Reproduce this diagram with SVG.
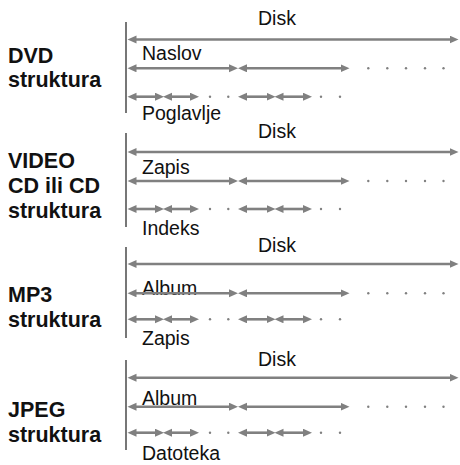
<svg xmlns="http://www.w3.org/2000/svg" width="460" height="465" viewBox="0 0 460 465">
<style>
.t{font-family:"Liberation Sans",Arial,sans-serif;font-size:19.5px;fill:#111}
.b{font-family:"Liberation Sans",Arial,sans-serif;font-size:21.5px;font-weight:bold;fill:#111}
.v{stroke:#555;stroke-width:1.6;fill:none}
.a{stroke:#808080;stroke-width:2.6;fill:none;marker-start:url(#ah);marker-end:url(#ah)}
.d{fill:#808080}
</style>
<defs>
<marker id="ah" markerUnits="userSpaceOnUse" markerWidth="10" markerHeight="9" refX="3.5" refY="4" orient="auto-start-reverse" viewBox="0 0 10 9">
<path d="M0,0 L9,4 L0,8 z" fill="#808080"/>
</marker>
</defs>
<rect width="460" height="465" fill="#fff"/>
<g id="labels">
<text class="b" x="8" y="63">DVD</text><text class="b" x="8" y="87">struktura</text>
<text class="b" x="8" y="168">VIDEO</text><text class="b" x="8" y="193">CD ili CD</text><text class="b" x="8" y="218">struktura</text>
<text class="b" x="8" y="302">MP3</text><text class="b" x="8" y="327">struktura</text>
<text class="b" x="8" y="417">JPEG</text><text class="b" x="8" y="442">struktura</text>
</g>
<g id="section1">
<path class="v" d="M126,22 V113"/>
<text class="t" x="277" y="25" text-anchor="middle">Disk</text>
<text class="t" x="142" y="59.5">Naslov</text>
<text class="t" x="142" y="120">Poglavlje</text>
<g class="conn">
<path class="a" d="M133,39.5 H453"/>
<path class="a" d="M133,68.3 H232.5"/><path class="a" d="M243.5,68.3 H344"/>
<path class="a" d="M133,96.7 H158.5"/><path class="a" d="M168.5,96.7 H193.5"/>
<path class="a" d="M243.5,96.7 H270"/><path class="a" d="M280,96.7 H306.5"/>
</g>
<g class="d"><circle cx="368.3" cy="68.3" r="1.2"/><circle cx="387.3" cy="68.3" r="1.2"/><circle cx="406" cy="68.3" r="1.2"/><circle cx="425" cy="68.3" r="1.2"/><circle cx="443.5" cy="68.3" r="1.2"/>
<circle cx="210" cy="96.7" r="1.2"/><circle cx="228.3" cy="96.7" r="1.2"/><circle cx="321" cy="96.7" r="1.2"/><circle cx="340" cy="96.7" r="1.2"/></g>
</g>
<g id="section2">
<path class="v" d="M126,133 V227"/>
<text class="t" x="277" y="138" text-anchor="middle">Disk</text>
<text class="t" x="142" y="174">Zapis</text>
<text class="t" x="142" y="235">Indeks</text>
<g class="conn">
<path class="a" d="M133,152 H453"/>
<path class="a" d="M133,181 H232.5"/><path class="a" d="M243.5,181 H344"/>
<path class="a" d="M133,209 H158.5"/><path class="a" d="M168.5,209 H193.5"/>
<path class="a" d="M243.5,209 H270"/><path class="a" d="M280,209 H306.5"/>
</g>
<g class="d"><circle cx="368.3" cy="181" r="1.2"/><circle cx="387.3" cy="181" r="1.2"/><circle cx="406" cy="181" r="1.2"/><circle cx="425" cy="181" r="1.2"/><circle cx="443.5" cy="181" r="1.2"/>
<circle cx="210" cy="209" r="1.2"/><circle cx="228.3" cy="209" r="1.2"/><circle cx="321" cy="209" r="1.2"/><circle cx="340" cy="209" r="1.2"/></g>
</g>
<g id="section3">
<path class="v" d="M126,247 V338"/>
<text class="t" x="277" y="252" text-anchor="middle">Disk</text>
<text class="t" x="142" y="295">Album</text>
<text class="t" x="142" y="345">Zapis</text>
<g class="conn">
<path class="a" d="M133,264 H453"/>
<path class="a" d="M133,293.3 H232.5"/><path class="a" d="M243.5,293.3 H344"/>
<path class="a" d="M133,319.3 H158.5"/><path class="a" d="M168.5,319.3 H193.5"/>
<path class="a" d="M243.5,319.3 H270"/><path class="a" d="M280,319.3 H306.5"/>
</g>
<g class="d"><circle cx="368.3" cy="293.3" r="1.2"/><circle cx="387.3" cy="293.3" r="1.2"/><circle cx="406" cy="293.3" r="1.2"/><circle cx="425" cy="293.3" r="1.2"/><circle cx="443.5" cy="293.3" r="1.2"/>
<circle cx="210" cy="319.3" r="1.2"/><circle cx="228.3" cy="319.3" r="1.2"/><circle cx="321" cy="319.3" r="1.2"/><circle cx="340" cy="319.3" r="1.2"/></g>
</g>
<g id="section4">
<path class="v" d="M126,360 V450"/>
<text class="t" x="277" y="366" text-anchor="middle">Disk</text>
<text class="t" x="142" y="405">Album</text>
<text class="t" x="142" y="460">Datoteka</text>
<g class="conn">
<path class="a" d="M133,377.7 H453"/>
<path class="a" d="M133,406.7 H232.5"/><path class="a" d="M243.5,406.7 H344"/>
<path class="a" d="M133,432.7 H158.5"/><path class="a" d="M168.5,432.7 H193.5"/>
<path class="a" d="M243.5,432.7 H270"/><path class="a" d="M280,432.7 H306.5"/>
</g>
<g class="d"><circle cx="368.3" cy="406.7" r="1.2"/><circle cx="387.3" cy="406.7" r="1.2"/><circle cx="406" cy="406.7" r="1.2"/><circle cx="425" cy="406.7" r="1.2"/><circle cx="443.5" cy="406.7" r="1.2"/>
<circle cx="210" cy="432.7" r="1.2"/><circle cx="228.3" cy="432.7" r="1.2"/><circle cx="321" cy="432.7" r="1.2"/><circle cx="340" cy="432.7" r="1.2"/></g>
</g>
</svg>
